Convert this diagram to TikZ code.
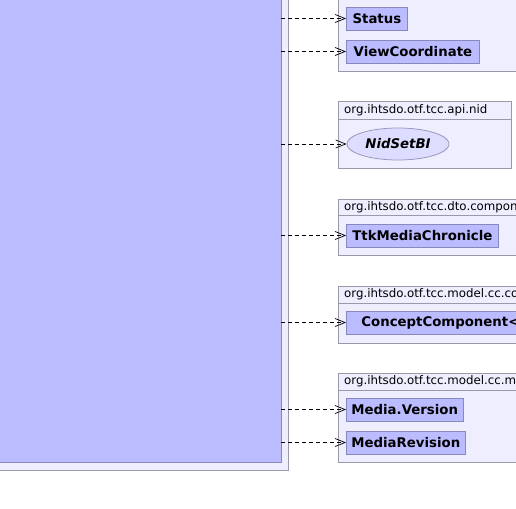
\documentclass[tikz,border=0pt]{standalone}
\usepackage{fontspec}
\setmainfont{DejaVu Sans}
\usetikzlibrary{arrows.meta,shapes.geometric}
\definecolor{pkgfill}{HTML}{EEEEFF}
\definecolor{pkgdraw}{HTML}{9999AA}
\definecolor{clsfill}{HTML}{BBBBFF}
\definecolor{clsdraw}{HTML}{8888BB}
\definecolor{ellfill}{HTML}{DDDDFF}
\definecolor{elldraw}{HTML}{9999BB}
\tikzset{
  pkg/.style={draw=pkgdraw, fill=pkgfill, line width=0.8pt},
  hdr/.style={anchor=west, inner sep=0pt, font=\fontsize{11.8}{13}\selectfont},
  cls/.style={draw=clsdraw, fill=clsfill, line width=0.8pt, anchor=west, minimum height=23pt, inner xsep=5pt, inner ysep=0pt, font=\fontsize{13.3}{15}\bfseries\selectfont},
  iface/.style={ellipse, draw=elldraw, fill=ellfill, line width=0.8pt, minimum width=102pt, minimum height=32pt, inner sep=0pt, font=\fontsize{13.3}{15}\bfseries\itshape\selectfont},
  dep/.style={draw=black, line width=0.8pt, dash pattern=on 4pt off 3pt, -{Straight Barb[length=10pt,width=8pt,line width=0.7pt]}},
}
\begin{document}
\begin{tikzpicture}[x=1pt,y=-1pt]
\useasboundingbox (0,0) rectangle (516,508);
\fill[white] (0,0) rectangle (516,508);
\clip (0,0) rectangle (516,508);
% main package and class
\node[pkg, rectangle, minimum width=298.5pt, minimum height=480pt, inner sep=0pt] (outer) at (139.25,230) {};
\node[draw=clsdraw, fill=clsfill, line width=0.8pt, rectangle, minimum width=291pt, minimum height=472pt, inner sep=0pt] (main) at (135.5,226) {};
% packages
\draw[pkg] (338,-10) rectangle (530,71);
\draw[pkg] (338,101) rectangle (511,168);
\draw[pkg] (338,119) -- (511,119);
\node[hdr] (hnid) at (344,110) {org.ihtsdo.otf.tcc.api.nid};
\draw[pkg] (338,199) rectangle (530,255);
\draw[pkg] (338,215) -- (530,215);
\node[hdr] (hdto) at (344,207.5) {org.ihtsdo.otf.tcc.dto.component};
\draw[pkg] (338,286) rectangle (530,343);
\draw[pkg] (338,303) -- (530,303);
\node[hdr] (hcc) at (344,294.5) {org.ihtsdo.otf.tcc.model.cc.concept};
\draw[pkg] (338,373) rectangle (530,462);
\draw[pkg] (338,390) -- (530,390);
\node[hdr] (hmedia) at (344,381.5) {org.ihtsdo.otf.tcc.model.cc.media};
% classes
\node[cls, minimum width=61pt] (status) at (346,18.5) {Status};
\node[cls, minimum width=133pt] (view) at (346,51.5) {ViewCoordinate};
\node[iface] (nid) at (398,144) {NidSetBI};
\node[cls, minimum width=152pt] (ttk) at (346,235.5) {TtkMediaChronicle};
\node[cls, text width=190pt, align=left, inner xsep=15pt] (cc) at (346,322.5) {ConceptComponent<};
\node[cls, minimum width=116pt] (mv) at (346,409.5) {Media.Version};
\node[cls, minimum width=116pt] (mr) at (346,442.5) {MediaRevision};
% dependencies
\draw[dep] (main.east |- status.west) -- (status.west);
\draw[dep] (main.east |- view.west) -- (view.west);
\draw[dep] (main.east |- nid.west) -- (nid.west);
\draw[dep] (main.east |- ttk.west) -- (ttk.west);
\draw[dep] (main.east |- cc.west) -- (cc.west);
\draw[dep] (main.east |- mv.west) -- (mv.west);
\draw[dep] (main.east |- mr.west) -- (mr.west);
\end{tikzpicture}
\end{document}
